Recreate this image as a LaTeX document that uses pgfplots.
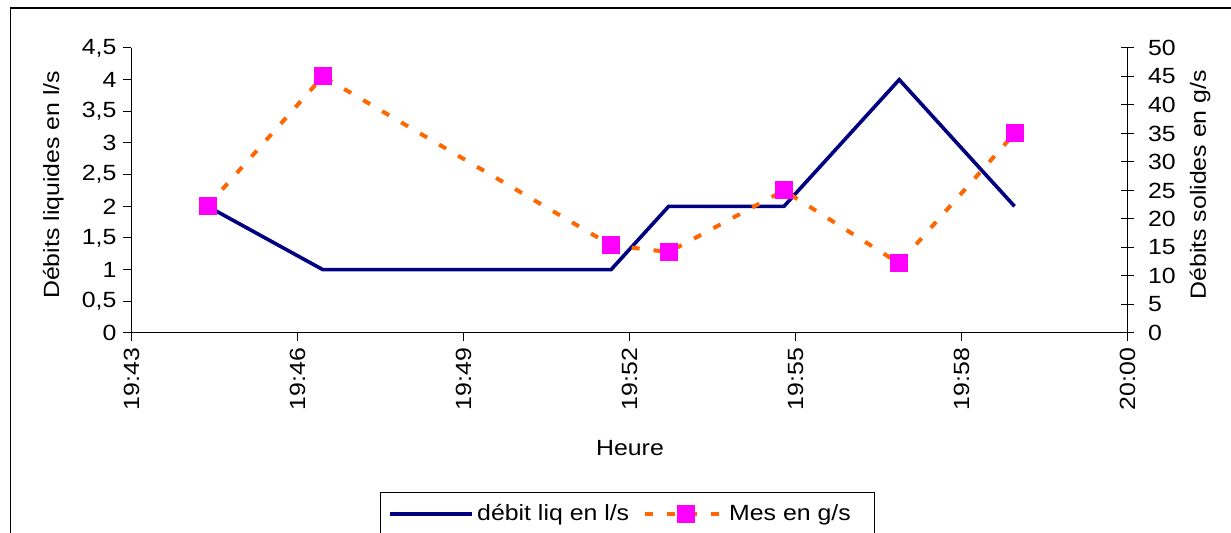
\documentclass[border=0pt]{standalone}
\usepackage{pgfplots}
\pgfplotsset{compat=1.18}
\usepackage{pgfplotstable}
\usepackage{fontspec}
\setmainfont{Liberation Sans}[FakeStretch=1.13]

\definecolor{liqblue}{RGB}{0,0,128}
\definecolor{mesorange}{RGB}{255,102,0}
\definecolor{mesmagenta}{RGB}{255,0,255}

% time in minutes after 19:00, liquid flow (l/s), solid flow (g/s)
\pgfplotstableread{
t      liq  mes
44.28  2    22.3
46.28  1    45.0
51.28  1    15.4
52.28  2    14.2
54.28  2    25.0
56.28  4    12.2
58.28  2    35.0
}\mesures

\pgfplotsset{
  chartfont/.style={font=\fontsize{11}{13.2}\selectfont},
  messtyle/.style={mesorange, line width=2pt, dash pattern=on 4pt off 7pt,
    mark=square*, mark size=3.5pt, mark options={solid, draw=mesmagenta, fill=mesmagenta}},
  liqlegend/.style={legend image code/.code={\draw[##1] (0pt,0pt) -- (41pt,0pt);}},
  meslegend/.style={legend image code/.code={\draw[mark repeat=2,mark phase=2,##1]
    plot coordinates {(0pt,0pt) (20.5pt,0pt) (37.5pt,0pt)};}},
}

\begin{document}
\begin{tikzpicture}
\clip (0pt,0pt) rectangle (615.5pt,266.5pt);
\draw[line width=0.6pt] (5.25pt,-20pt) rectangle (640pt,262.5pt);

\begin{axis}[
  chartfont,
  at={(65.75pt,100pt)}, anchor=south west,
  scale only axis, width=498pt, height=142.5pt,
  xmin=42.96, xmax=60.24,
  ymin=0, ymax=4.5,
  axis x line*=bottom, axis y line*=left,
  axis line style={line width=0.5pt, -},
  xtick={42.96,45.84,48.72,51.60,54.48,57.36,60.24},
  xticklabels={19:43,19:46,19:49,19:52,19:55,19:58,20:00},
  xticklabel style={rotate=90, anchor=east},
  xtick align=outside, ytick align=outside,
  major tick length=4pt,
  tick style={black, line width=0.5pt},
  ytick={0,0.5,...,4.5},
  yticklabel style={/pgf/number format/.cd, fixed, use comma, assume math mode=true},
  xlabel={Heure},
  xlabel style={at={(axis description cs:0.5005,-0.4035)}, anchor=center},
  ylabel={Débits liquides en l/s},
  ylabel style={at={(axis description cs:-0.0785,0.52)}, anchor=center},
  legend columns=2,
  legend style={
    at={(axis description cs:0.2495,-0.558)}, anchor=north west,
    draw=black, line width=0.6pt, inner xsep=4pt, inner ysep=6pt,
    nodes={inner sep=0pt},
    /tikz/column 1/.style={column sep=1.5pt},
    /tikz/column 2/.style={column sep=7pt},
    /tikz/column 3/.style={column sep=3.5pt},
    chartfont,
  },
  legend cell align=left,
]
\addplot[liqblue, line width=1.8pt, mark=none, liqlegend]
  table[x=t, y=liq] {\mesures};
\addlegendentry{débit liq en l/s}
\addlegendimage{messtyle, meslegend}
\addlegendentry{Mes en g/s\kern8pt}
\end{axis}

\begin{axis}[
  chartfont,
  at={(65.75pt,100pt)}, anchor=south west,
  scale only axis, width=498pt, height=142.5pt,
  xmin=42.96, xmax=60.24,
  ymin=0, ymax=50,
  hide x axis,
  axis y line*=right,
  axis line style={line width=0.5pt, -},
  ytick={0,5,...,50},
  ytick align=center, major tick length=6.5pt,
  tick style={black, line width=0.5pt},
  yticklabel style={/pgf/number format/assume math mode=true, xshift=3.5pt},
  ylabel={Débits solides en g/s},
  ylabel style={at={(axis description cs:1.0728,0.52)}, anchor=center},
]
\addplot[messtyle] table[x=t, y=mes] {\mesures};
\end{axis}
\end{tikzpicture}
\end{document}
